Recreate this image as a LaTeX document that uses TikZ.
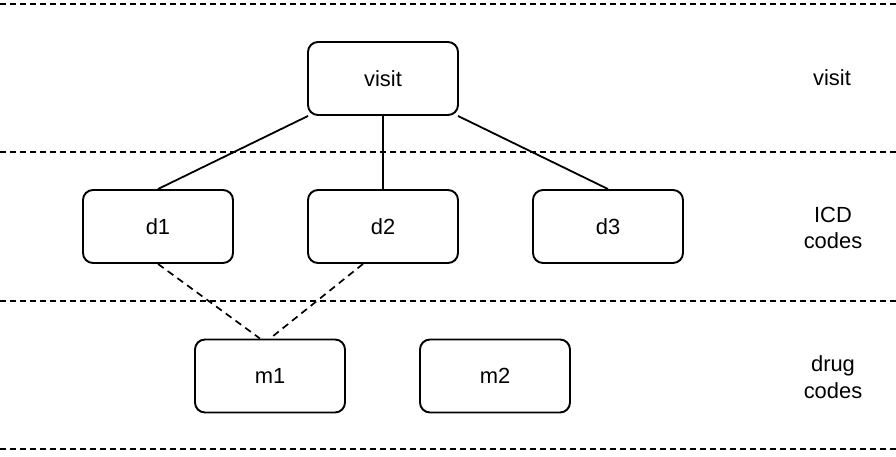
\documentclass[tikz,border=0pt]{standalone}
\usepackage{fontspec}
\setmainfont{Liberation Sans}
\begin{document}
\begin{tikzpicture}[x=1bp,y=-1bp,
  box/.style={draw=black,line width=1.9bp,rounded corners=10bp,minimum width=150bp,minimum height=73bp,inner sep=0pt,font=\fontsize{22}{26}\selectfont},
  lbl/.style={align=center,font=\fontsize{22}{27}\selectfont},
  sep/.style={line width=1.5bp,dash pattern=on 6bp off 4bp},
  conn/.style={line width=1.8bp},
  dconn/.style={line width=1.7bp,dash pattern=on 7bp off 5bp}]
\useasboundingbox (0,0) rectangle (896,457);
% separators
\coordinate (s1a) at (0,4); \coordinate (s1b) at (896,4);
\coordinate (s2a) at (0,152); \coordinate (s2b) at (896,152);
\coordinate (s3a) at (0,301); \coordinate (s3b) at (896,301);
\coordinate (s4a) at (0,449); \coordinate (s4b) at (896,449);
\draw[sep] (s1a) -- (s1b);
\draw[sep] (s2a) -- (s2b);
\draw[sep] (s3a) -- (s3b);
\draw[sep] (s4a) -- (s4b);
% nodes
\node[box] (visit) at (383,78.5) {visit};
\node[box] (d1) at (158,226.5) {d1};
\node[box] (d2) at (383,226.5) {d2};
\node[box] (d3) at (608,226.5) {d3};
\node[box] (m1) at (270,376) {m1};
\node[box] (m2) at (495,376) {m2};
% labels
\node[lbl] (lv) at (832,78) {visit};
\node[lbl] (li) at (833,228) {ICD\\codes};
\node[lbl] (ld) at (833,377) {drug\\codes};
% connectors
\draw[conn] (visit.south west) ++(1,0) coordinate (va) -- (d1.north);
\draw[conn] (visit.south) -- (d2.north);
\draw[conn] (visit.south east) ++(-1,0) coordinate (vb) -- (d3.north);
\draw[dconn] (d1.south) -- ([xshift=-10bp]m1.north);
\draw[dconn] ([xshift=-20bp]d2.south) -- (m1.north);
\end{tikzpicture}
\end{document}
